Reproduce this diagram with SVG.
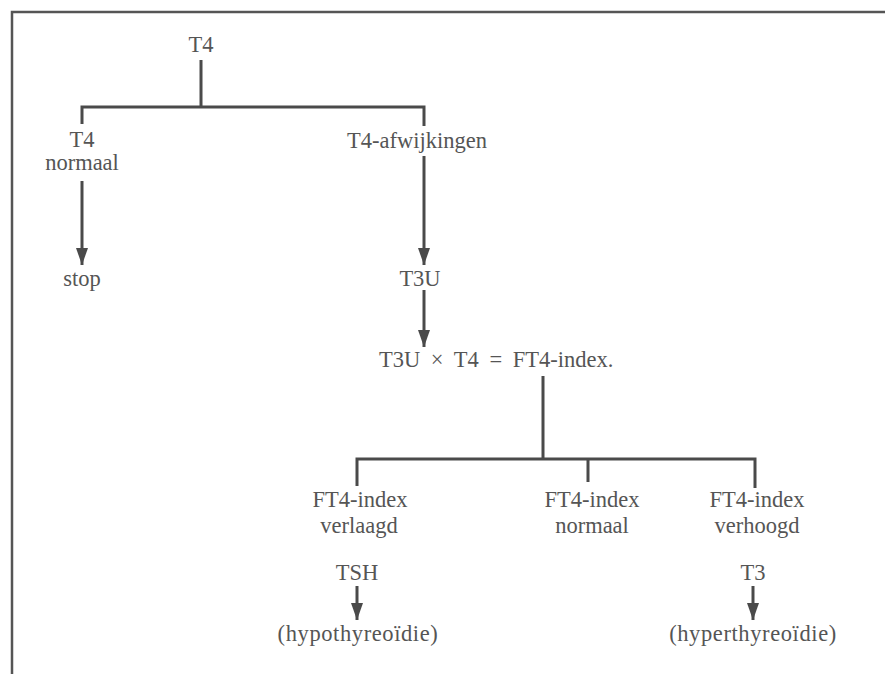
<svg xmlns="http://www.w3.org/2000/svg" width="885" height="674" viewBox="0 0 885 674">
<style>
text{font-family:"Liberation Serif","Times New Roman",serif;font-size:22.5px;fill:#555;text-anchor:middle}
.w{letter-spacing:0.6px}
.c{fill:none;stroke:#4a4a4a;stroke-width:3}
.f{fill:none;stroke:#555;stroke-width:2.5}
</style>
<defs>
<marker id="a" markerUnits="userSpaceOnUse" markerWidth="18" markerHeight="14" refX="17" refY="7" orient="auto" viewBox="0 0 18 14">
<path d="M0,1 L17,7 L0,13 Z" fill="#4a4a4a"/>
</marker>
</defs>
<rect width="885" height="674" fill="#fff"/>
<path class="f" d="M12,674 V12 H885"/>
<g id="connectors">
<path class="c" d="M201,60 V107 M82,124 V107 H424 V126"/>
<line class="c" x1="82" y1="181" x2="82" y2="265" marker-end="url(#a)"/>
<line class="c" x1="424" y1="156" x2="424" y2="265" marker-end="url(#a)"/>
<line class="c" x1="424" y1="290" x2="424" y2="347" marker-end="url(#a)"/>
<path class="c" d="M543,376 V459 M357,486 V459 H755 V488 M588,459 V482"/>
<line class="c" x1="357" y1="586" x2="357" y2="620" marker-end="url(#a)"/>
<line class="c" x1="753" y1="586" x2="753" y2="620" marker-end="url(#a)"/>
</g>
<g id="n-t4"><text x="201" y="52">T4</text></g>
<g id="n-t4normaal"><text x="82" y="147">T4</text><text x="82" y="170">normaal</text></g>
<g id="n-afw"><text x="417" y="148">T4-afwijkingen</text></g>
<g id="n-stop"><text x="82" y="286">stop</text></g>
<g id="n-t3u"><text x="420" y="286">T3U</text></g>
<g id="n-formula"><text x="379" y="367" style="text-anchor:start;word-spacing:5px">T3U × T4 = FT4-index.</text></g>
<g id="n-verlaagd"><text x="360" y="507">FT4-index</text><text x="359" y="533">verlaagd</text></g>
<g id="n-normaal"><text x="592" y="507">FT4-index</text><text x="592" y="533">normaal</text></g>
<g id="n-verhoogd"><text x="757" y="507">FT4-index</text><text x="757" y="533">verhoogd</text></g>
<g id="n-tsh"><text x="357" y="580">TSH</text></g>
<g id="n-hypo"><text class="w" x="358" y="641">(hypothyreoïdie)</text></g>
<g id="n-t3"><text x="753" y="580">T3</text></g>
<g id="n-hyper"><text class="w" x="753" y="641">(hyperthyreoïdie)</text></g>
</svg>
